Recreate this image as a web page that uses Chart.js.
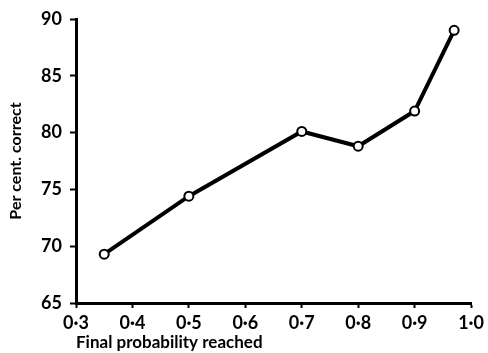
<!DOCTYPE html>
<html>
<head>
<meta charset="utf-8">
<script src="https://cdn.jsdelivr.net/npm/chart.js@4/dist/chart.umd.min.js"></script>
<style>
  html, body { margin: 0; padding: 0; background: #fff; }
  #wrap { width: 488px; height: 353px; }
</style>
</head>
<body>
<div id="wrap"><canvas id="chart" width="488" height="353"></canvas></div>
<script>
// data
const probability = [0.35, 0.5, 0.7, 0.8, 0.9, 0.97];
const percentCorrect = [69.3, 74.4, 80.1, 78.8, 81.9, 89.0];
const xTicks = [0.3, 0.4, 0.5, 0.6, 0.7, 0.8, 0.9, 1.0];
const yTicks = [65, 70, 75, 80, 85, 90];

const FONT = 'Lato, "DejaVu Sans", sans-serif';

const points = probability.map((p, i) => ({ x: p, y: percentCorrect[i] }));

new Chart(document.getElementById('chart'), {
  type: 'line',
  data: {
    datasets: [{
      data: points,
      borderColor: '#000',
      borderWidth: 4,
      pointRadius: 4.5,
      pointBorderWidth: 2,
      pointBackgroundColor: '#fff',
      pointBorderColor: '#000',
      tension: 0
    }]
  },
  options: {
    responsive: false,
    animation: false,
    layout: { padding: { top: 19, right: 13, left: 0, bottom: 0 } },
    plugins: { legend: { display: false }, tooltip: { enabled: false } },
    scales: {
      x: {
        type: 'linear',
        min: 0.3,
        max: 1.0,
        afterBuildTicks: s => { s.ticks = xTicks.map(v => ({ value: v })); },
        afterFit: s => { s.height = 50; },
        border: { color: '#000', width: 3 },
        grid: { drawOnChartArea: false, tickLength: 5, tickWidth: 2, tickColor: '#000' },
        ticks: {
          color: '#000',
          padding: 4,
          font: { family: FONT, size: 18, weight: 'bold' },
          callback: v => v.toFixed(1).replace('.', '·')
        },
        title: {
          display: true,
          text: 'Final probability reached',
          align: 'start',
          color: '#000',
          padding: { top: 0, bottom: 0 },
          font: { family: FONT, size: 17, weight: 'bold' }
        }
      },
      y: {
        min: 65,
        max: 90,
        afterBuildTicks: s => { s.ticks = yTicks.map(v => ({ value: v })); },
        afterFit: s => { s.width = 76; },
        border: { color: '#000', width: 3 },
        grid: { drawOnChartArea: false, tickLength: 6, tickWidth: 2, tickColor: '#000' },
        ticks: {
          color: '#000',
          padding: 8,
          font: { family: FONT, size: 18, weight: 'bold' }
        },
        title: {
          display: true,
          text: 'Per cent. correct',
          color: '#000',
          padding: { top: 6, bottom: 0 },
          font: { family: FONT, size: 16, weight: 'bold' }
        }
      }
    }
  }
});
</script>
</body>
</html>
